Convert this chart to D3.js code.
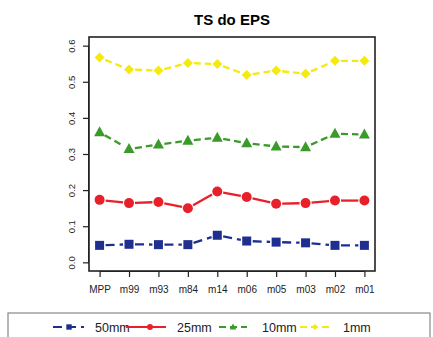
<!DOCTYPE html>
<html><head><meta charset="utf-8">
<script src="https://cdn.jsdelivr.net/npm/d3@7"></script>
<style>body{margin:0;background:#fff;} svg{display:block;font-family:"Liberation Sans",Arial,sans-serif;}</style>
</head><body>
<script>
const categories = ["MPP","m99","m93","m84","m14","m06","m05","m03","m02","m01"];
const s50 = [0.047,0.050,0.049,0.049,0.075,0.059,0.056,0.054,0.047,0.047];
const s25 = [0.173,0.164,0.167,0.150,0.196,0.181,0.162,0.164,0.171,0.171];
const s10 = [0.360,0.314,0.326,0.337,0.345,0.330,0.321,0.319,0.356,0.354];
const s1  = [0.567,0.534,0.531,0.552,0.549,0.519,0.531,0.522,0.558,0.558];
const seriesNames = ["50mm","25mm","10mm","1mm"];
const yTicks = [0.0,0.1,0.2,0.3,0.4,0.5,0.6];

const series = [
  {name:seriesNames[0], values:s50, color:"#1f2f8f", dash:"9,5", shape:"square"},
  {name:seriesNames[1], values:s25, color:"#e8202a", dash:null, shape:"circle"},
  {name:seriesNames[2], values:s10, color:"#3a9a2a", dash:"7,4", shape:"triangle"},
  {name:seriesNames[3], values:s1,  color:"#f5ea10", dash:"7,4", shape:"diamond"}
];

const W=433,H=337;
const L=89,R=375,T=37,B=271;
const svg=d3.select("body").append("svg").attr("width",W).attr("height",H);

const x=d3.scaleLinear().domain([1-0.36,10+0.36]).range([L,R]);
const y=d3.scaleLinear().domain([-0.024,0.624]).range([B,T]);

svg.append("text").attr("x",(L+R)/2).attr("y",25).attr("text-anchor","middle")
  .attr("font-size",15).attr("font-weight","bold").text("TS do EPS");

svg.append("rect").attr("x",L).attr("y",T).attr("width",R-L).attr("height",B-T)
  .attr("fill","none").attr("stroke","#222").attr("stroke-width",1.6);

// y axis
const yAx=svg.append("g").attr("transform",`translate(${L},0)`)
  .call(d3.axisLeft(y).tickValues(yTicks).tickSize(6).tickFormat(d3.format(".1f")));
yAx.select(".domain").attr("stroke","#222").attr("d",`M-0.5,${y(0)}V${y(0.6)}`);
yAx.selectAll(".tick line").attr("stroke","#222").attr("stroke-width",1.2);
yAx.selectAll(".tick text").attr("font-size",9.5).attr("fill","#222")
  .attr("dy","0.35em").attr("text-anchor","middle")
  .attr("transform","translate(-17,0) rotate(-90)").attr("x",0).attr("y",0);

// x axis
const xAx=svg.append("g").attr("transform",`translate(0,${B})`)
  .call(d3.axisBottom(x).tickValues(d3.range(1,11)).tickSize(6).tickFormat(i=>categories[i-1]));
xAx.select(".domain").attr("d",`M${x(1)},0.5H${x(10)}`).attr("stroke","#222");
xAx.selectAll(".tick line").attr("stroke","#222").attr("stroke-width",1.2);
xAx.selectAll(".tick text").attr("font-size",10).attr("fill","#222").attr("y",15);

function drawMarker(g,shape,cx,cy,color,sc){
  sc=sc||1;
  if(shape==="square") g.append("rect").attr("x",cx-4.5*sc).attr("y",cy-4.5*sc).attr("width",9*sc).attr("height",9*sc).attr("fill",color);
  else if(shape==="circle") g.append("circle").attr("cx",cx).attr("cy",cy).attr("r",5*sc).attr("fill",color);
  else if(shape==="triangle") g.append("path").attr("d",`M${cx},${cy-6*sc}L${cx+5.5*sc},${cy+4*sc}L${cx-5.5*sc},${cy+4*sc}Z`).attr("fill",color);
  else g.append("path").attr("d",`M${cx},${cy-5*sc}L${cx+5*sc},${cy}L${cx},${cy+5*sc}L${cx-5*sc},${cy}Z`).attr("fill",color);
}

series.forEach(s=>{
  const g=svg.append("g");
  const pts=s.values.map((v,i)=>[x(i+1),y(v)]);
  for(let i=0;i<pts.length-1;i++){
    const [x1,y1]=pts[i],[x2,y2]=pts[i+1];
    const dx=x2-x1,dy=y2-y1,len=Math.hypot(dx,dy),gap=6;
    const ux=dx/len,uy=dy/len;
    const ln=g.append("line").attr("x1",x1+ux*gap).attr("y1",y1+uy*gap)
      .attr("x2",x2-ux*gap).attr("y2",y2-uy*gap)
      .attr("stroke",s.color).attr("stroke-width",2.3);
    if(s.dash) ln.attr("stroke-dasharray",s.dash);
  }
  pts.forEach(p=>drawMarker(g,s.shape,p[0],p[1],s.color));
});

// legend
svg.append("rect").attr("x",8).attr("y",313).attr("width",422).attr("height",40)
  .attr("fill","#fff").attr("stroke","#888").attr("stroke-width",1.2);
const legendX=[{l1:53,l2:84,m:69,t:95},{l1:126,l2:166,m:150,t:177},{l1:219,l2:247,m:233,t:262},{l1:300,l2:330,m:315,t:343}];
series.forEach((s,i)=>{
  const p=legendX[i], ly=327;
  const ln=svg.append("line").attr("x1",p.l1).attr("x2",p.l2).attr("y1",ly).attr("y2",ly)
    .attr("stroke",s.color).attr("stroke-width",2);
  if(s.dash) ln.attr("stroke-dasharray",s.dash);
  drawMarker(svg,s.shape,p.m,ly,s.color,0.6);
  svg.append("text").attr("x",p.t).attr("y",ly).attr("dy","0.36em").attr("font-size",12.5).attr("fill","#222").text(s.name);
});
</script>
</body></html>
